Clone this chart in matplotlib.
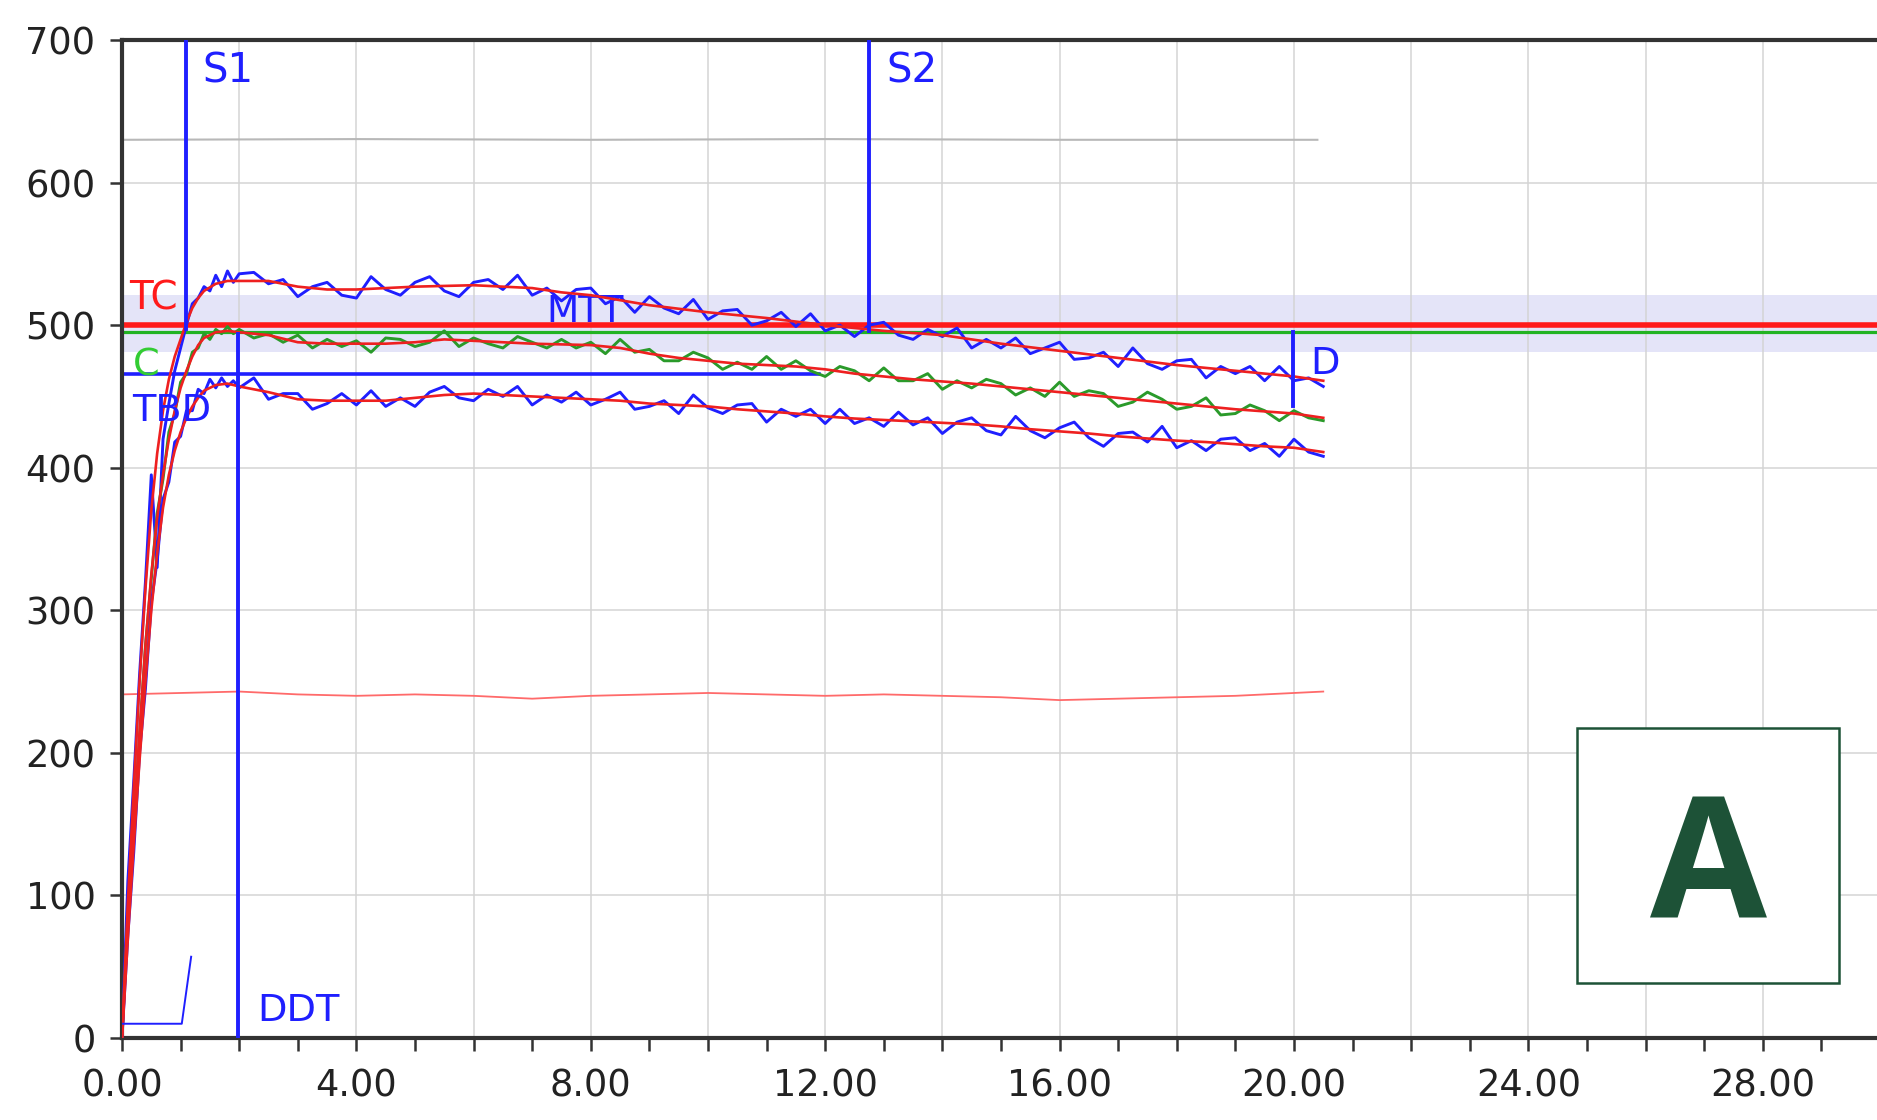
import matplotlib.pyplot as plt
from matplotlib.ticker import MultipleLocator, FuncFormatter
from matplotlib.patches import Rectangle

# sample times of the recorded (noisy) signals, minutes
sample_t = [0, 0.1, 0.2, 0.3, 0.4, 0.5, 0.6, 0.7, 0.8, 0.9, 1.0, 1.1, 1.2, 1.3, 1.4, 1.5, 1.6, 1.7, 1.8, 1.9, 2.0,
            2.25, 2.5, 2.75, 3.0, 3.25, 3.5, 3.75, 4.0, 4.25, 4.5, 4.75, 5.0, 5.25, 5.5, 5.75, 6.0, 6.25, 6.5, 6.75, 7.0,
            7.25, 7.5, 7.75, 8.0, 8.25, 8.5, 8.75, 9.0, 9.25, 9.5, 9.75, 10.0, 10.25, 10.5, 10.75, 11.0, 11.25, 11.5,
            11.75, 12.0, 12.25, 12.5, 12.75, 13.0, 13.25, 13.5, 13.75, 14.0, 14.25, 14.5, 14.75, 15.0, 15.25, 15.5,
            15.75, 16.0, 16.25, 16.5, 16.75, 17.0, 17.25, 17.5, 17.75, 18.0, 18.25, 18.5, 18.75, 19.0, 19.25, 19.5,
            19.75, 20.0, 20.25, 20.5]

tc_raw = [0, 110, 180, 255, 320, 395, 330, 420, 445, 468, 484, 500, 515, 519, 527, 524, 535, 527, 538, 530, 536,
          537, 529, 532, 520, 527, 530, 521, 519, 534, 525, 521, 530, 534, 524, 520, 530, 532, 525, 535, 521,
          526, 517, 525, 526, 515, 520, 509, 520, 512, 508, 518, 504, 510, 511, 500, 503, 509, 499, 508, 496,
          500, 492, 500, 502, 493, 490, 497, 492, 498, 484, 490, 484, 491, 480, 484, 488, 476, 477, 481, 471,
          484, 473, 469, 475, 476, 463, 471, 466, 471, 461, 471, 461, 463, 457]

c_raw = [0, 85, 150, 212, 275, 322, 368, 392, 425, 438, 460, 466, 481, 484, 494, 490, 497, 494, 499, 494, 497,
         491, 494, 488, 493, 484, 490, 485, 489, 481, 491, 490, 485, 488, 496, 485, 491, 487, 484, 492, 488,
         484, 490, 484, 488, 480, 490, 481, 483, 475, 475, 481, 477, 469, 474, 469, 478, 469, 475, 468, 464,
         471, 468, 461, 470, 461, 461, 466, 455, 461, 456, 462, 459, 451, 456, 450, 460, 450, 454, 452, 443,
         446, 453, 448, 441, 443, 449, 437, 438, 444, 440, 433, 440, 435, 433]

tbd_raw = [0, 72, 130, 200, 245, 305, 335, 378, 390, 418, 422, 440, 440, 455, 452, 462, 456, 463, 457, 461, 456,
           463, 448, 452, 452, 441, 445, 452, 444, 454, 443, 449, 443, 453, 457, 449, 447, 455, 450, 457, 444,
           451, 446, 453, 444, 448, 453, 441, 443, 447, 438, 451, 442, 438, 444, 445, 432, 441, 436, 441, 431,
           441, 431, 435, 429, 439, 430, 435, 424, 432, 435, 426, 423, 436, 426, 421, 428, 432, 421, 415, 424,
           425, 418, 429, 414, 419, 412, 420, 421, 412, 417, 408, 420, 411, 408]

# smoothed fits (red)
fit_t = [0, 0.1, 0.2, 0.3, 0.4, 0.5, 0.6, 0.7, 0.8, 0.9, 1.0, 1.1, 1.2, 1.3, 1.4, 1.6, 1.8, 2.0,
         2.5, 3.0, 3.5, 4.0, 4.5, 5.0, 5.5, 6.0, 6.5, 7.0, 7.5, 8.0, 8.5, 9.0, 9.5, 10.0, 10.5, 11.0, 11.5,
         12.0, 12.5, 13.0, 13.5, 14.0, 14.5, 15.0, 15.5, 16.0, 16.5, 17.0, 17.5, 18.0, 18.5, 19.0, 19.5, 20.0, 20.5]
tc_fit = [0, 95, 175, 250, 315, 370, 410, 440, 462, 478, 490, 502, 512, 519, 524, 529, 531, 531,
          531, 527, 525, 525, 526, 527, 527.5, 528, 527, 526, 523, 521, 517.5, 514, 511.5, 509, 507, 505, 502.5,
          500, 498, 496, 494.5, 493, 490, 487, 484.5, 482, 479.5, 477, 474.5, 472, 470, 468, 466, 464, 461]
c_fit = [0, 80, 150, 215, 275, 325, 365, 395, 420, 440, 456, 468, 478, 486, 491, 495, 496, 495,
         493, 488, 487, 487, 487, 488, 490, 489, 488, 487, 486.5, 486, 484, 480, 477, 475, 473, 472, 471,
         469, 466, 464, 462, 460.5, 459, 457, 455, 453, 451, 449, 447, 445, 443, 441, 439.5, 438, 435]
tbd_fit = [0, 70, 135, 195, 250, 300, 340, 372, 395, 412, 425, 435, 443, 449, 454, 458, 459, 457,
           453, 448, 447, 447, 447, 449, 451, 452, 451, 450, 449, 448, 447, 445, 444, 443, 441, 439.5, 438,
           436, 434.5, 433.5, 432.5, 431.5, 430.5, 429, 427, 425.5, 424, 422, 420.5, 419, 418, 416.5, 415, 414, 411]

# auxiliary traces
top_t = [0, 4, 8, 12, 16, 20.4]
top_v = [630, 630.5, 630, 630.5, 630, 630]
low_t = [0, 1, 2, 3, 4, 5, 6, 7, 8, 9, 10, 11, 12, 13, 14, 15, 16, 17, 18, 19, 20, 20.5]
low_v = [241, 242, 243, 241, 240, 241, 240, 238, 240, 241, 242, 241, 240, 241, 240, 239, 237, 238, 239, 240, 242, 243]
step_t = [0, 1.02, 1.18]
step_v = [10, 10, 57]

# reference levels and markers
tc_level = 500
c_level = 495
band = (481, 521)
tbd_level, tbd_end = 466, 11.9
s1_t, s2_t, ddt_t, d_t = 1.09, 12.75, 1.98, 19.98

BLUE = '#1f1fff'
RED = '#ff1a1a'
GREEN = '#22b322'

fig = plt.figure(figsize=(18.77, 11.2), dpi=100)
ax = fig.add_axes([122 / 1877, 82 / 1120, 1 - 122 / 1877, 998 / 1120])
ax.set_xlim(0, 29.95)
ax.set_ylim(0, 700)

ax.axhspan(*band, color='#e4e4f8', zorder=0.5, lw=0)
ax.plot(top_t, top_v, color='#b8b8b8', lw=1.5, zorder=2)
ax.plot(low_t, low_v, color='#ff6a6a', lw=1.3, zorder=2)
ax.axhline(tc_level, color=RED, lw=4, zorder=2)
ax.axhline(c_level, color=GREEN, lw=2.3, zorder=2)
ax.plot([0, tbd_end], [tbd_level, tbd_level], color=BLUE, lw=2.6, zorder=2)

ax.text(7.25, 509, 'MTT', color=BLUE, fontsize=27, va='center', zorder=2.5)

ax.plot(sample_t, tc_raw, color=BLUE, lw=2.1, zorder=3)
ax.plot(sample_t, c_raw, color='#2a9a2a', lw=2.1, zorder=3)
ax.plot(sample_t, tbd_raw, color=BLUE, lw=2.1, zorder=3)
for fit in (tc_fit, c_fit, tbd_fit):
    ax.plot(fit_t, fit, color='#ee2020', lw=1.9, zorder=4)
ax.plot(step_t, step_v, color=BLUE, lw=1.4, zorder=4)

ax.plot([s1_t, s1_t], [497, 700], color=BLUE, lw=2.8, zorder=5)
ax.plot([s2_t, s2_t], [496, 700], color=BLUE, lw=2.8, zorder=5)
ax.plot([ddt_t, ddt_t], [0, 494], color=BLUE, lw=2.8, zorder=5)
ax.plot([d_t, d_t], [443, 495], color=BLUE, lw=2.8, zorder=5)

ax.text(1.37, 678, 'S1', color=BLUE, fontsize=29, va='center', zorder=6)
ax.text(13.04, 678, 'S2', color=BLUE, fontsize=29, va='center', zorder=6)
ax.text(2.3, 19, 'DDT', color=BLUE, fontsize=27.5, va='center', zorder=6)
ax.text(20.27, 473, 'D', color=BLUE, fontsize=27.5, va='center', zorder=6)
ax.text(0.12, 519, 'TC', color=RED, fontsize=28, va='center', zorder=6)
ax.text(0.19, 472, 'C', color='#33cc33', fontsize=27.5, va='center', zorder=6)
ax.text(0.17, 440, 'TBD', color=BLUE, fontsize=27.5, va='center', zorder=6)

# axes styling
ax.xaxis.set_major_locator(MultipleLocator(2))
ax.xaxis.set_minor_locator(MultipleLocator(1))
ax.xaxis.set_major_formatter(FuncFormatter(lambda v, p: '%.2f' % v if round(v) % 4 == 0 else ''))
ax.yaxis.set_major_locator(MultipleLocator(100))
ax.grid(True, which='major', color='#d4d4d4', lw=1.1, zorder=0)
ax.set_axisbelow(True)
for side in ('left', 'bottom', 'top'):
    ax.spines[side].set_linewidth(3)
    ax.spines[side].set_color('#333333')
ax.spines['right'].set_visible(False)
ax.tick_params(which='both', direction='out', length=9, width=1.8, color='#333333',
               labelsize=26.5, labelcolor='#222222')
ax.tick_params(axis='x', which='both', pad=12)
ax.tick_params(axis='y', pad=10)

# panel letter
fig.patches.append(Rectangle((1577 / 1877, 1 - 983 / 1120), 262 / 1877, 255 / 1120,
                             transform=fig.transFigure, facecolor='white', edgecolor='#1d5237',
                             lw=1.8, zorder=10))
fig.text(1708 / 1877, 1 - 918 / 1120, 'A', color='#1d5237', fontsize=122, fontweight='bold',
         family='Open Sans', ha='center', va='baseline', zorder=11)

fig.savefig('out.png', dpi=100)
